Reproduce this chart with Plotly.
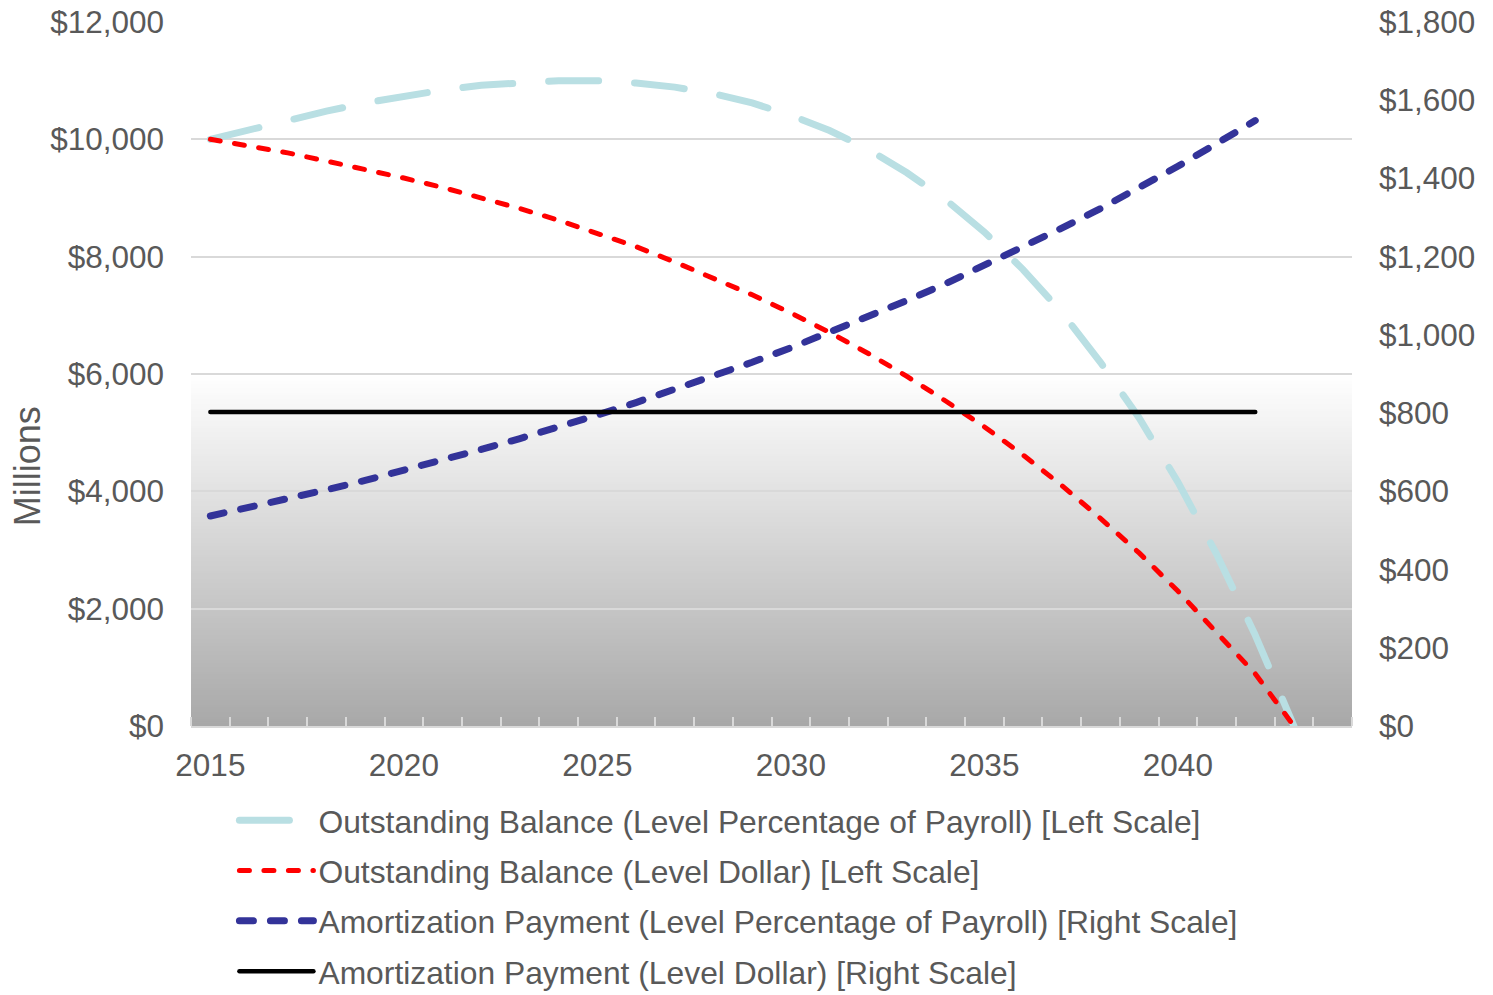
import plotly.graph_objects as go

# Years for the outstanding balances (through payoff) and for the payments
balance_years = list(range(2015, 2044))
payment_years = list(range(2015, 2043))

# Outstanding balance, level percentage of payroll ($ millions, left scale)
balance_lpp = [10000, 10170, 10330, 10480, 10620, 10740, 10840, 10920, 10970, 11000,
               11000, 10960, 10890, 10780, 10620, 10410, 10150, 9830, 9430, 8970,
               8420, 7780, 7050, 6200, 5250, 4160, 2930, 1550, 0]

# Outstanding balance, level dollar ($ millions, left scale)
balance_ld = [10000, 9890, 9770, 9630, 9490, 9340, 9180, 9010, 8820, 8620,
              8400, 8170, 7910, 7640, 7350, 7040, 6710, 6350, 5960, 5540,
              5100, 4620, 4100, 3540, 2950, 2300, 1610, 890, 0]

# Amortization payment, level percentage of payroll ($ millions, right scale)
payment_lpp = [537, 558, 581, 604, 628, 653, 679, 707, 735, 764,
               795, 827, 860, 894, 930, 967, 1006, 1046, 1088, 1131,
               1177, 1224, 1273, 1323, 1376, 1431, 1489, 1548]

# Amortization payment, level dollar ($ millions, right scale)
payment_ld = [803, 803, 803, 803, 803, 803, 803, 803, 803, 803,
              803, 803, 803, 803, 803, 803, 803, 803, 803, 803,
              803, 803, 803, 803, 803, 803, 803, 803]

series_names = [
    "Outstanding Balance (Level Percentage of Payroll) [Left Scale]",
    "Outstanding Balance (Level Dollar) [Left Scale]",
    "Amortization Payment (Level Percentage of Payroll) [Right Scale]",
    "Amortization Payment (Level Dollar) [Right Scale]",
]

x_tick_labels = [2015, 2020, 2025, 2030, 2035, 2040]

FONT = "Liberation Sans, Arial, sans-serif"
TEXT = "#595959"
GRID = "#d9d9d9"
FS = 31.5

fig = go.Figure()

fig.add_trace(go.Scatter(
    x=balance_years, y=balance_lpp, name=series_names[0], mode="lines",
    line=dict(color="#b9dfe3", width=7, dash="50px,36px"), legendgroup="a", yaxis="y"))
fig.add_trace(go.Scatter(
    x=balance_years, y=balance_ld, name=series_names[1], mode="lines",
    line=dict(color="#ff0000", width=5, dash="10px,14.5px"), legendgroup="b", yaxis="y"))
fig.add_trace(go.Scatter(
    x=payment_years, y=payment_lpp, name=series_names[2], mode="lines",
    line=dict(color="#333399", width=7, dash="14px,17px"), legendgroup="c", yaxis="y2"))
fig.add_trace(go.Scatter(
    x=payment_years, y=payment_ld, name=series_names[3], mode="lines",
    line=dict(color="#000000", width=4.5), legendgroup="d", yaxis="y2"))

# Shaded lower band of the plot area: white at $6,000 fading to gray at $0.
# Each rect runs up to $6,000 and later (lighter) ones sit on top, so no seams show.
shapes = []
n_bands = 150
top, bottom = (255, 255, 255), (168, 168, 168)
for k in range(n_bands):
    y0 = 6000 * k / n_bands
    f = (k + 0.5) / n_bands
    c = tuple(round(bottom[j] + (top[j] - bottom[j]) * f) for j in range(3))
    shapes.append(dict(type="rect", xref="paper", x0=0, x1=1, yref="y", y0=y0, y1=6000,
                       fillcolor="rgb(%d,%d,%d)" % c, line=dict(width=0), layer="below"))

half_years = [2014.5 + k for k in range(31)]

fig.update_layout(
    width=1493, height=995,
    margin=dict(l=191, r=141, t=22, b=269, autoexpand=False),
    paper_bgcolor="white", plot_bgcolor="white",
    font=dict(family=FONT, size=FS, color=TEXT),
    shapes=shapes,
    showlegend=True,
    legend=dict(
        xref="paper", yref="paper", x=0.0374, y=-0.0952,
        xanchor="left", yanchor="top",
        font=dict(family=FONT, size=31.8, color=TEXT),
        itemwidth=74, tracegroupgap=6, bgcolor="rgba(0,0,0,0)",
        traceorder="grouped",
    ),
    xaxis=dict(
        range=[2014.5, 2044.5], tickmode="array", tickvals=x_tick_labels,
        ticktext=[str(v) for v in x_tick_labels], ticks="", ticklabelstandoff=10,
        showgrid=False, zeroline=False, showline=True, linecolor=GRID, linewidth=2,
        tickfont=dict(size=FS, color=TEXT),
        minor=dict(tickmode="array", tickvals=half_years, ticks="inside",
                   ticklen=9, tickwidth=2, tickcolor=GRID, showgrid=False),
    ),
    yaxis=dict(
        range=[0, 12000], tickmode="linear", tick0=0, dtick=2000,
        tickprefix="$", tickformat=",d", showgrid=True, gridcolor=GRID, gridwidth=2,
        zeroline=False, showline=False, ticks="", ticklabelstandoff=26,
        tickfont=dict(size=FS, color=TEXT),
    ),
    yaxis2=dict(
        range=[0, 1800], tickmode="linear", tick0=0, dtick=200,
        tickprefix="$", tickformat=",d", overlaying="y", side="right",
        showgrid=False, zeroline=False, showline=False, ticks="", ticklabelstandoff=26,
        tickfont=dict(size=FS, color=TEXT),
    ),
    annotations=[dict(
        text="Millions", textangle=-90, showarrow=False,
        xref="paper", x=0, xanchor="center", xshift=-164,
        yref="paper", y=0.369, yanchor="middle",
        font=dict(family=FONT, size=36, color=TEXT),
    )],
)

# Round line caps on the series and legend samples
post = """
var gd = document.getElementById('{plot_id}');
function roundCaps(){
  gd.querySelectorAll('.scatterlayer .js-line, .legend .js-line').forEach(function(p){
    p.style.strokeLinecap = 'round';
  });
}
roundCaps();
if (gd.on) { gd.on('plotly_afterplot', roundCaps); }
"""

fig.write_html("out.html", post_script=post)
